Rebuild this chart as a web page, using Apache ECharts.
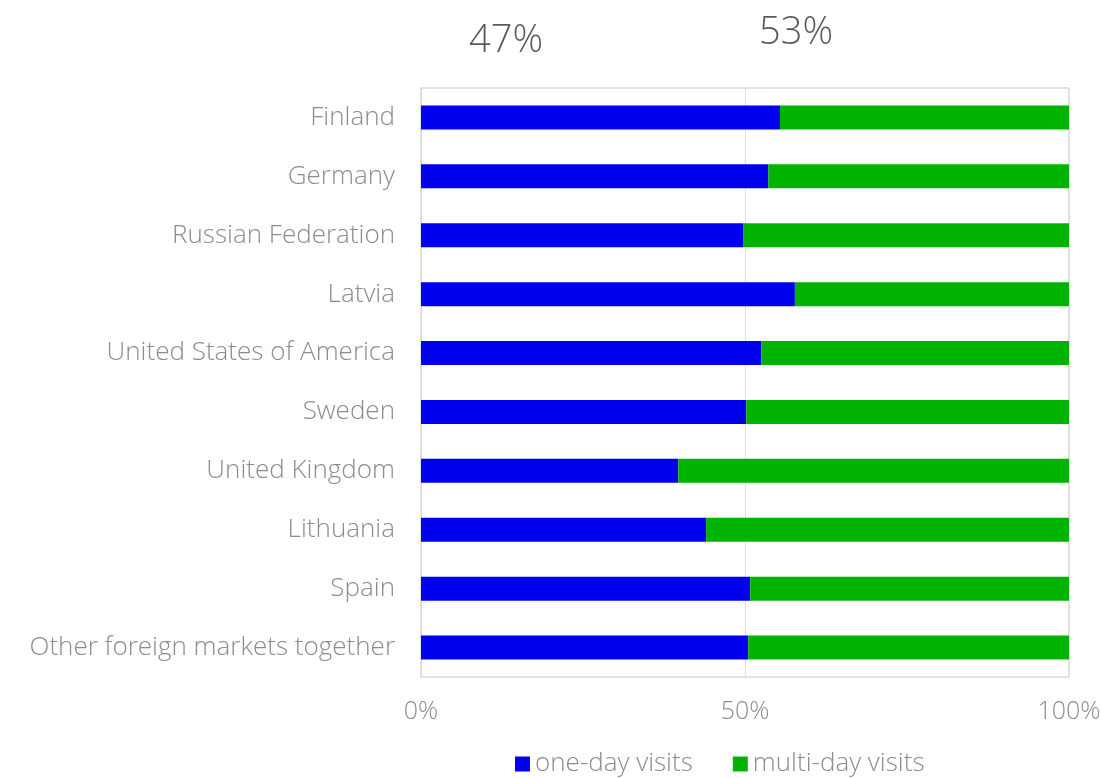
<!DOCTYPE html>
<html>
<head>
<meta charset="utf-8">
<script src="https://cdn.jsdelivr.net/npm/echarts@6/dist/echarts.min.js"></script>
<style>
  html, body { margin: 0; padding: 0; background: #fff; }
  #chart { width: 1102px; height: 778px; }
</style>
</head>
<body>
<div id="chart"></div>
<script>
// data
var countries = ['Finland', 'Germany', 'Russian Federation', 'Latvia', 'United States of America',
    'Sweden', 'United Kingdom', 'Lithuania', 'Spain', 'Other foreign markets together'];
var oneDay = [55.4, 53.6, 49.7, 57.7, 52.5, 50.2, 39.7, 44.0, 50.8, 50.5];
var multiDay = oneDay.map(function (v) { return +(100 - v).toFixed(1); });
var totals = ['47%', '53%'];
var xTicks = [0, 50, 100];

var font = '"Open Sans", Lato, sans-serif';
var grey = '#8c8c8c';

var chart = echarts.init(document.getElementById('chart'));
chart.setOption({
    animation: false,
    grid: {
        left: 421, right: 33, top: 88, bottom: 101,
        outerBoundsMode: 'none',
        show: true, borderColor: '#c6c6c6', borderWidth: 1
    },
    // overall shares above the chart
    graphic: [
        { type: 'text', left: 469, top: 22, style: { text: totals[0], font: '300 38px ' + font, fill: '#595959' } },
        { type: 'text', left: 759, top: 14, style: { text: totals[1], font: '300 38px ' + font, fill: '#595959' } }
    ],
    legend: {
        bottom: -4, left: 510,
        itemWidth: 15, itemHeight: 15, itemGap: 40,
        icon: 'rect',
        textStyle: { color: grey, fontSize: 26, fontFamily: font, fontWeight: 300 },
        data: ['one-day visits', 'multi-day visits']
    },
    xAxis: {
        type: 'value', min: xTicks[0], max: xTicks[2], interval: 50,
        axisLine: { show: false },
        axisTick: { show: false },
        splitLine: { lineStyle: { color: '#e0e0e0' } },
        axisLabel: {
            margin: 22, color: grey, fontSize: 25, fontFamily: font, fontWeight: 300,
            formatter: '{value}%'
        }
    },
    yAxis: {
        type: 'category', data: countries, inverse: true,
        axisLine: { show: true, lineStyle: { color: '#d9d9d9' } },
        axisTick: { show: false },
        axisLabel: { margin: 26, color: grey, fontSize: 26, fontFamily: font, fontWeight: 300 }
    },
    series: [
        {
            name: 'one-day visits', type: 'bar', stack: 'all', data: oneDay,
            barWidth: 24, itemStyle: { color: '#0000ee' }
        },
        {
            name: 'multi-day visits', type: 'bar', stack: 'all', data: multiDay,
            barWidth: 24, itemStyle: { color: '#00b300' }
        }
    ]
});
</script>
</body>
</html>
